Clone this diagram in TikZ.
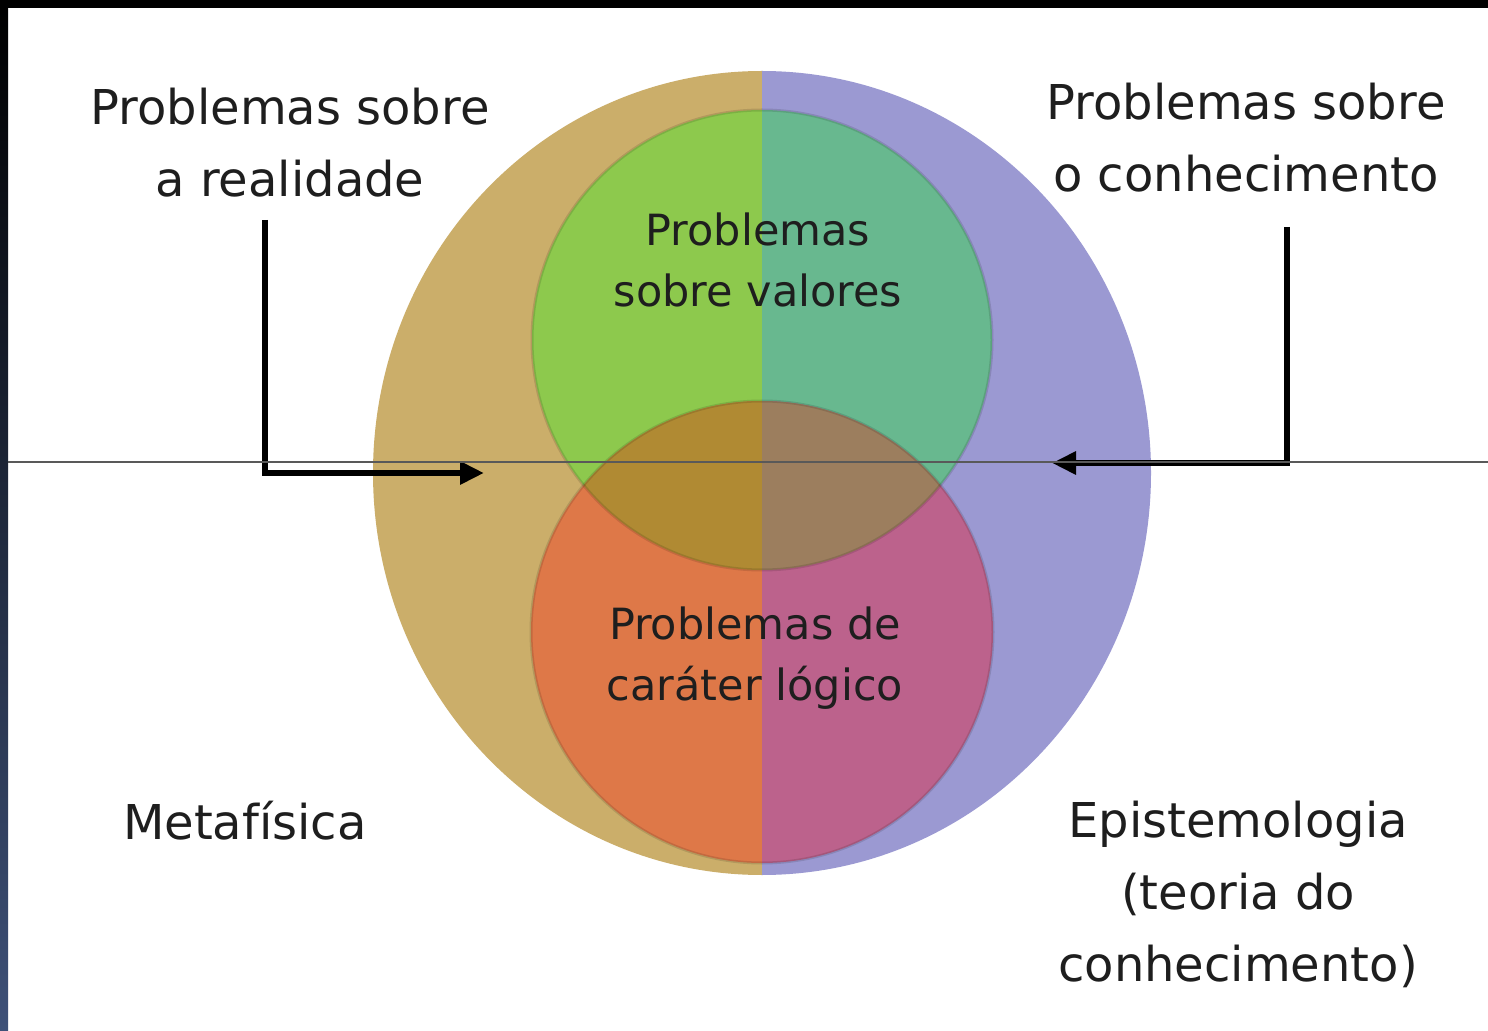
\documentclass[tikz,border=0pt]{standalone}
\usepackage{fontspec}
\setmainfont{DejaVu Sans}
\usetikzlibrary{arrows.meta}
\definecolor{tanleft}{HTML}{CBAE6A}
\definecolor{lavright}{HTML}{9B99D2}
\definecolor{greenleft}{HTML}{8DC94D}
\definecolor{tealright}{HTML}{68B88F}
\definecolor{orangeleft}{HTML}{DE7848}
\definecolor{pinkright}{HTML}{BC628C}
\definecolor{oliveleft}{HTML}{B08A33}
\definecolor{brownright}{HTML}{9C7E5E}
\definecolor{navybar}{HTML}{3E5178}
\definecolor{labelgray}{HTML}{1E1E1E}
\tikzstyle{outerlabel} = [align=center, inner sep=0pt, text=labelgray, font=\fontsize{24}{36}\selectfont]
\tikzstyle{innerlabel} = [align=center, inner sep=0pt, text=labelgray, font=\fontsize{21.5}{30.5}\selectfont]
\tikzstyle{arrow} = [line width=3pt, -{Triangle[length=12pt,width=11pt]}]
\tikzstyle{rim} = [draw=black, draw opacity=0.12, line width=1.5pt]

\begin{document}
\begin{tikzpicture}[x=0.5pt, y=-0.5pt]
        \useasboundingbox (0,0) rectangle (1488,1031);
        \fill[white] (0,0) rectangle (1488,1031);

        % left half of the three circles
        \begin{scope}
        \clip (0,0) rectangle (762,1031);
        \fill[tanleft] (762,473) ellipse [x radius=194.5pt, y radius=201pt];
        \fill[greenleft] (762,340) circle [radius=115pt];
        \fill[orangeleft] (762,632) circle [radius=115.5pt];
        \begin{scope}
        \clip (762,340) circle [radius=115pt];
        \fill[oliveleft] (762,632) circle [radius=115.5pt];
        \end{scope}
        \end{scope}

        % right half
        \begin{scope}
        \clip (762,0) rectangle (1488,1031);
        \fill[lavright] (762,473) ellipse [x radius=194.5pt, y radius=201pt];
        \fill[tealright] (762,340) circle [radius=115pt];
        \fill[pinkright] (762,632) circle [radius=115.5pt];
        \begin{scope}
        \clip (762,340) circle [radius=115pt];
        \fill[brownright] (762,632) circle [radius=115.5pt];
        \end{scope}
        \end{scope}

        \path[rim] (762,340) circle [radius=115pt];
        \path[rim] (762,632) circle [radius=115.5pt];

        \node (realidade) [outerlabel] at (290,143) {Problemas sobre\\a realidade};
        \node (conhecimento) [outerlabel] at (1246,138) {Problemas sobre\\o conhecimento};
        \node (valores) [innerlabel] at (758,260) {Problemas\\sobre valores};
        \node (logico) [innerlabel] at (755,658) {Problemas de\\caráter lógico};
        \node (metafisica) [outerlabel] at (245,821) {Metafísica};
        \node (epistemologia) [outerlabel] at (1238,894) {Epistemologia\\(teoria do\\conhecimento)};

        \coordinate (realtip) at (484,473);
        \coordinate (conhtip) at (1052,463);

        \draw [arrow] ([xshift=-12.5pt, yshift=-11pt]realidade.south) |- (realtip);
        \draw [arrow] ([xshift=20.5pt, yshift=-17pt]conhecimento.south) |- (conhtip);

        % frame edges and the thin rule
        \fill[black] (0,0) rectangle (1488,8);
        \shade[top color=black, bottom color=navybar] (0,8) rectangle (8,1031);
        \draw[black!65, line width=0.6pt] (8,462) -- (1488,462);
\end{tikzpicture}
\end{document}
